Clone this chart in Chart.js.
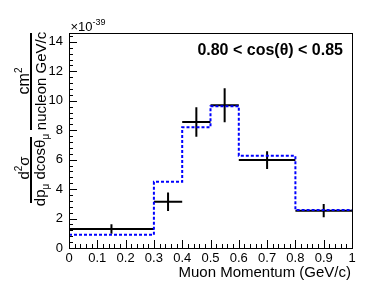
<!DOCTYPE html>
<html>
<head>
<meta charset="utf-8">
<script src="https://cdn.jsdelivr.net/npm/chart.js@4.4.1/dist/chart.umd.min.js"></script>
<style>
  body { margin: 0; background: #fff; }
  canvas { display: block; }
</style>
</head>
<body>
<canvas id="xsecChart" width="387" height="283"></canvas>
<script>
// Bin edges in muon momentum (GeV/c)
const binEdges = [0, 0.3, 0.4, 0.5, 0.6, 0.8, 1.0];
// Measured cross section (x10^-39) and its errors
const dataValues = [1.29, 3.14, 8.55, 9.69, 5.97, 2.53];
const dataErrors = [0.33, 0.63, 1.0, 1.15, 0.6, 0.45];
// Prediction (blue dashed)
const mcValues = [0.9, 4.5, 8.2, 9.63, 6.26, 2.58];
// Axis ranges
const xRange = [0, 1];
const yRange = [0, 14.6];

// Build points for the chart
const mcPoints = [];
const dataPoints = [];
const errPoints = [];
for (let i = 0; i < dataValues.length; i++) {
    const lo = binEdges[i], hi = binEdges[i + 1], mid = (lo + hi) / 2;
    mcPoints.push({ x: lo, y: mcValues[i] }, { x: hi, y: mcValues[i] });
    dataPoints.push({ x: lo, y: dataValues[i] }, { x: hi, y: dataValues[i] }, { x: hi, y: null });
    errPoints.push({ x: mid, y: dataValues[i] - dataErrors[i] }, { x: mid, y: dataValues[i] + dataErrors[i] }, { x: mid, y: null });
}

// Draw text pieces (with sub/superscripts) centred on x,y, optionally rotated
function drawRich(ctx, parts, x, y, rotate) {
    ctx.save();
    ctx.translate(x, y);
    if (rotate) ctx.rotate(-Math.PI / 2);
    ctx.textBaseline = "alphabetic";
    ctx.textAlign = "left";
    let total = 0;
    parts.forEach(p => {
        ctx.font = p.font;
        p.w = ctx.measureText(p.t).width;
        total += p.w;
    });
    let pos = -total / 2;
    parts.forEach(p => {
        ctx.font = p.font;
        ctx.fillText(p.t, pos, p.dy || 0);
        pos += p.w;
    });
    ctx.restore();
}

const decorations = {
    id: "decorations",
    afterDraw(chart) {
        const ctx = chart.ctx;
        const area = chart.chartArea;
        const xs = chart.scales.x, ys = chart.scales.y;
        ctx.save();
        ctx.strokeStyle = "#000";
        ctx.fillStyle = "#000";
        ctx.lineWidth = 1;
        // frame
        ctx.strokeRect(area.left + 0.5, area.top + 0.5, area.right - area.left, area.bottom - area.top);
        // x ticks (inside)
        ctx.beginPath();
        for (let i = 0; i <= 50; i++) {
            const px = Math.round(xs.getPixelForValue(i * 0.02)) + 0.5;
            const len = i % 5 === 0 ? 8 : 4;
            ctx.moveTo(px, area.bottom);
            ctx.lineTo(px, area.bottom - len);
        }
        // y ticks (inside)
        for (let i = 0; i * 0.4 <= yRange[1]; i++) {
            const py = Math.round(ys.getPixelForValue(i * 0.4)) + 0.5;
            const len = i % 5 === 0 ? 8 : 4;
            ctx.moveTo(area.left, py);
            ctx.lineTo(area.left + len, py);
        }
        ctx.stroke();

        const f = "px 'Liberation Sans', Arial, sans-serif";
        // exponent label
        drawRich(ctx, [
            { t: "\u00d710", font: "13" + f },
            { t: "-39", font: "9" + f, dy: -6 }
        ], 88, 31, false);

        // region label
        ctx.font = "bold 16" + f;
        ctx.textAlign = "right";
        ctx.textBaseline = "middle";
        ctx.fillText("0.80 < cos(\u03b8) < 0.85", 343, 51);

        // x title
        ctx.font = "15" + f;
        ctx.textAlign = "right";
        ctx.fillText("Muon Momentum (GeV/c)", 351, 273);

        // y title: two stacked fractions
        drawRich(ctx, [
            { t: "d", font: "15" + f },
            { t: "2", font: "10" + f, dy: -7 },
            { t: "\u03c3", font: "15" + f }
        ], 29, 168, true);
        drawRich(ctx, [
            { t: "dp", font: "15" + f },
            { t: "\u03bc", font: "10" + f, dy: 4 },
            { t: " dcos\u03b8", font: "15" + f },
            { t: "\u03bc", font: "10" + f, dy: 4 }
        ], 44.5, 170, true);
        drawRich(ctx, [
            { t: "cm", font: "16" + f },
            { t: "2", font: "10" + f, dy: -7 }
        ], 29, 81, true);
        drawRich(ctx, [
            { t: "nucleon GeV/c", font: "15" + f }
        ], 45.5, 81, true);
        ctx.fillRect(30, 137, 2, 66);
        ctx.fillRect(30, 33, 2, 97);
        ctx.restore();
    }
};

const ctx = document.getElementById("xsecChart").getContext("2d");

new Chart(ctx, {
    type: "line",
    data: {
        datasets: [
            {
                label: "Prediction",
                data: mcPoints,
                borderColor: "#0000ff",
                borderWidth: 2,
                borderDash: [3, 2],
                pointRadius: 0,
                tension: 0
            },
            {
                label: "Data",
                data: dataPoints,
                borderColor: "#000",
                borderWidth: 2,
                pointRadius: 0,
                spanGaps: false
            },
            {
                label: "Errors",
                data: errPoints,
                borderColor: "#000",
                borderWidth: 2,
                pointRadius: 0,
                spanGaps: false
            }
        ]
    },
    options: {
        responsive: false,
        animation: false,
        layout: { padding: { left: 0, top: 33, right: 35, bottom: 0 } },
        plugins: {
            legend: { display: false },
            tooltip: { enabled: false }
        },
        scales: {
            x: {
                type: "linear",
                min: xRange[0],
                max: xRange[1],
                grid: { display: false, drawTicks: false },
                border: { display: false },
                afterFit(scale) { scale.height = 35; },
                ticks: {
                    stepSize: 0.1,
                    autoSkip: false,
                    maxRotation: 0,
                    padding: 3,
                    color: "#000",
                    font: { family: "'Liberation Sans', Arial, sans-serif", size: 13 },
                    callback: v => String(Number(v.toFixed(1)))
                }
            },
            y: {
                type: "linear",
                min: yRange[0],
                max: yRange[1],
                grid: { display: false, drawTicks: false },
                border: { display: false },
                afterFit(scale) { scale.width = 69; },
                ticks: {
                    stepSize: 2,
                    includeBounds: false,
                    padding: 6,
                    color: "#000",
                    font: { family: "'Liberation Sans', Arial, sans-serif", size: 13 }
                }
            }
        }
    },
    plugins: [decorations]
});
</script>
</body>
</html>
